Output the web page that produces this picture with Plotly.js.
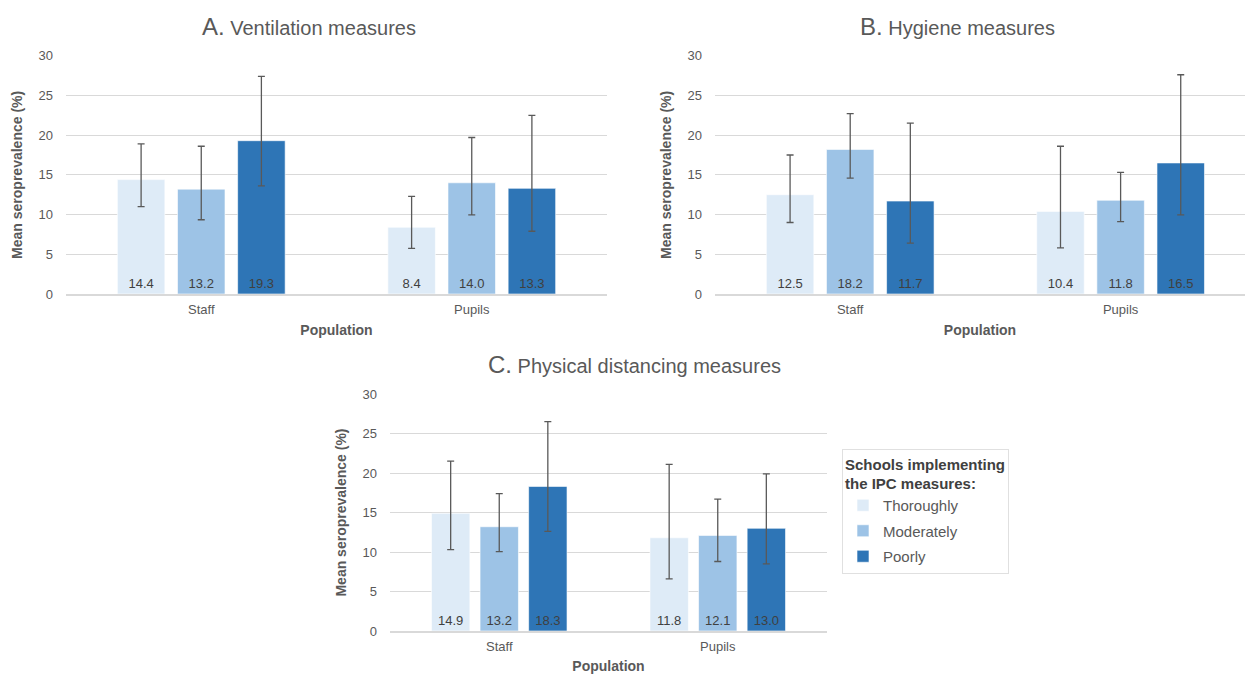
<!DOCTYPE html>
<html>
<head>
<meta charset="utf-8">
<script src="https://cdn.plot.ly/plotly-3.0.1.min.js"></script>
<style>html,body{margin:0;padding:0;background:#fff}#chart{width:1245px;height:674px}</style>
</head>
<body>
<div id="chart"></div>
<script>
const categories = ["Staff", "Pupils"];
const levels = ["Thoroughly", "Moderately", "Poorly"];
const colors = ["#DEEBF7", "#9DC3E6", "#2E75B6"];

// Panel A: Ventilation measures
const ventMean  = {Thoroughly: [14.4, 8.4], Moderately: [13.2, 14.0], Poorly: [19.3, 13.3]};
const ventUpper = {Thoroughly: [18.9, 12.3], Moderately: [18.6, 19.7], Poorly: [27.4, 22.5]};
const ventLower = {Thoroughly: [11.0, 5.75], Moderately: [9.35, 9.95], Poorly: [13.6, 7.9]};

// Panel B: Hygiene measures
const hygMean  = {Thoroughly: [12.5, 10.4], Moderately: [18.2, 11.8], Poorly: [11.7, 16.5]};
const hygUpper = {Thoroughly: [17.5, 18.6], Moderately: [22.7, 15.3], Poorly: [21.5, 27.6]};
const hygLower = {Thoroughly: [9.0, 5.8], Moderately: [14.6, 9.1], Poorly: [6.4, 9.95]};

// Panel C: Physical distancing measures
const distMean  = {Thoroughly: [14.9, 11.8], Moderately: [13.2, 12.1], Poorly: [18.3, 13.0]};
const distUpper = {Thoroughly: [21.5, 21.1], Moderately: [17.4, 16.7], Poorly: [26.5, 19.9]};
const distLower = {Thoroughly: [10.3, 6.6], Moderately: [10.05, 8.8], Poorly: [12.6, 8.5]};

const tickVals = [0, 5, 10, 15, 20, 25, 30];

const panels = [
  {mean: ventMean, up: ventUpper, lo: ventLower, xa: "x", ya: "y", legend: true},
  {mean: hygMean, up: hygUpper, lo: hygLower, xa: "x2", ya: "y2", legend: false},
  {mean: distMean, up: distUpper, lo: distLower, xa: "x3", ya: "y3", legend: false}
];

const traces = [];
panels.forEach(p => {
  levels.forEach((lv, i) => {
    const m = p.mean[lv];
    traces.push({
      type: "bar",
      name: lv,
      x: categories,
      y: m,
      xaxis: p.xa,
      yaxis: p.ya,
      showlegend: p.legend,
      legendgroup: lv,
      marker: {color: colors[i], line: {color: "rgba(255,255,255,0.6)", width: 1}},
      text: m.map(v => v.toFixed(1)),
      textposition: "inside",
      insidetextanchor: "start",
      textangle: 0,
      textfont: {family: "Liberation Sans, Arial, sans-serif", size: 13, color: "#404040"},
      error_y: {
        type: "data",
        symmetric: false,
        array: p.up[lv].map((u, k) => u - m[k]),
        arrayminus: p.lo[lv].map((l, k) => m[k] - l),
        color: "#595959",
        thickness: 1.3,
        width: 3.5
      },
      hoverinfo: "skip"
    });
  });
});

const font = "Liberation Sans, Arial, sans-serif";
function xaxis(domain, anchor, range) {
  return {
    domain: domain, anchor: anchor, range: range,
    showgrid: false, showline: true, linecolor: "#D9D9D9", linewidth: 2,
    ticks: "", zeroline: false,
    tickfont: {family: font, size: 13, color: "#595959"},
    ticklabelstandoff: 2,
    title: {text: "Population", font: {family: font, size: 14, color: "#595959", weight: "bold"}, standoff: 10}
  };
}
function yaxis(domain, anchor) {
  return {
    domain: domain, anchor: anchor, range: [0, 30],
    tickvals: tickVals, showgrid: true, gridcolor: "#D9D9D9", gridwidth: 1,
    zeroline: false, showline: false, ticks: "",
    tickfont: {family: font, size: 13, color: "#595959"},
    ticklabelstandoff: 12,
    title: {text: "Mean seroprevalence (%)", font: {family: font, size: 14, color: "#595959", weight: "bold"}, standoff: 12}
  };
}

const W = 1245, H = 674;
const topAB = 1 - 55.7 / H, botAB = 1 - 294 / H;
const topC = 1 - 394 / H, botC = 1 - 631 / H;

const titleFont = {family: font, size: 20, color: "#595959"};
const layout = {
  width: W, height: H,
  margin: {l: 0, r: 0, t: 0, b: 0},
  paper_bgcolor: "#fff", plot_bgcolor: "#fff",
  barmode: "group", bargap: 0.333, bargroupgap: 0.21,
  font: {family: font, color: "#595959"},
  xaxis: xaxis([66 / W, 607 / W], "y", [-0.5, 1.5]),
  yaxis: yaxis([botAB, topAB], "x"),
  xaxis2: xaxis([715 / W, 1], "y2", [-0.5, 1.46]),
  yaxis2: yaxis([botAB, topAB], "x2"),
  xaxis3: xaxis([390 / W, 827 / W], "y3", [-0.5, 1.5]),
  yaxis3: yaxis([botC, topC], "x3"),
  showlegend: true,
  legend: {
    x: 842 / W, y: 1 - 449 / H, xanchor: "left", yanchor: "top",
    bgcolor: "#fff", bordercolor: "#E0E0E0", borderwidth: 1,
    title: {text: "<b>Schools implementing<br>the IPC measures:</b>", font: {family: font, size: 15, color: "#404040"}},
    font: {family: font, size: 15, color: "#595959"},
    itemwidth: 30, tracegroupgap: 3,
    traceorder: "grouped"
  },
  annotations: [
    {text: "<span style='font-size:24px'>A.</span> Ventilation measures", x: 309 / W, y: 1 - 27 / H, xanchor: "center", yanchor: "middle", xref: "paper", yref: "paper", showarrow: false, font: titleFont},
    {text: "<span style='font-size:24px'>B.</span> Hygiene measures", x: 958 / W, y: 1 - 27 / H, xanchor: "center", yanchor: "middle", xref: "paper", yref: "paper", showarrow: false, font: titleFont},
    {text: "<span style='font-size:24px'>C.</span> Physical distancing measures", x: 634 / W, y: 1 - 364 / H, xanchor: "center", yanchor: "middle", xref: "paper", yref: "paper", showarrow: false, font: titleFont}
  ]
};

Plotly.newPlot("chart", traces, layout, {displayModeBar: false, staticPlot: true});
</script>
</body>
</html>
